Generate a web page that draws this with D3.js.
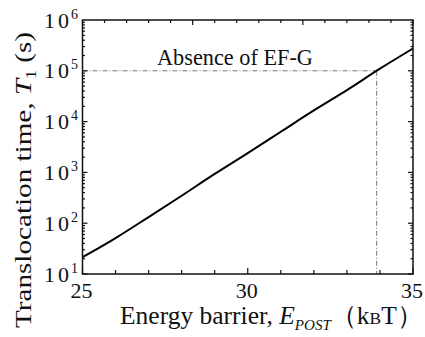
<!DOCTYPE html>
<html>
<head>
<meta charset="utf-8">
<script src="https://cdn.jsdelivr.net/npm/d3@7"></script>
<style>
  body { margin: 0; background: #fff; }
</style>
</head>
<body>
<div id="container"></div>
<script>
// energy barrier E_POST (kBT) and translocation time T1 (s)
const energy = [25, 26, 27, 28, 29, 30, 31, 32, 33, 34, 35];
const time = [21.4, 51, 132, 347, 933, 2400, 6310, 16600, 41700, 110000, 275000];
const xTickValues = [25, 30, 35];
const yExponents = [1, 2, 3, 4, 5, 6];
const markerE = 33.9;
const markerT = 1e5;
const note = "Absence of EF-G";

const w = 425;
const h = 337;
const svg = d3.select("#container")
  .append("svg")
  .attr("width", w)
  .attr("height", h)
  .attr("font-family", "Liberation Serif");

const padL = 82.5, padR = 413, padT = 20, padB = 274;

const xScale = d3.scaleLinear().domain([25, 35]).range([padL, padR]);
const yScale = d3.scaleLog().domain([10, 1e6]).range([padB, padT]);

// scale a text's font so it spans the wanted width
function fitText(sel, target) {
  const size = +sel.attr("font-size");
  const k = target / sel.node().getBBox().width;
  sel.attr("font-size", size * k);
  sel.selectAll("tspan").each(function () {
    const t = d3.select(this);
    if (t.attr("font-size")) t.attr("font-size", +t.attr("font-size") * k);
    if (t.attr("dy")) t.attr("dy", +t.attr("dy") * k);
  });
}

// dash-dot guide lines
const guide = svg.append("g")
  .attr("stroke", "#777")
  .attr("stroke-width", 1)
  .attr("stroke-dasharray", "5,2,1,2")
  .attr("fill", "none");
guide.append("line")
  .attr("x1", xScale(25)).attr("x2", xScale(markerE))
  .attr("y1", yScale(markerT)).attr("y2", yScale(markerT));
guide.append("line")
  .attr("x1", xScale(markerE)).attr("x2", xScale(markerE))
  .attr("y1", yScale(markerT)).attr("y2", padB);

// curve
const line = d3.line()
  .x((d, i) => xScale(energy[i]))
  .y((d) => yScale(d))
  .curve(d3.curveMonotoneX);
svg.append("path")
  .datum(time)
  .attr("d", line)
  .attr("fill", "none")
  .attr("stroke", "#000")
  .attr("stroke-width", 2);

// frame
svg.append("rect")
  .attr("x", padL).attr("y", padT)
  .attr("width", padR - padL).attr("height", padB - padT)
  .attr("fill", "none")
  .attr("stroke", "#111")
  .attr("stroke-width", 1.5);

// inward ticks
const ticks = svg.append("g").attr("stroke", "#111").attr("stroke-width", 1.2);
const xMinor = d3.range(25, 35.01, 1);
ticks.selectAll(".xb")
  .data(xMinor)
  .enter().append("line")
  .attr("x1", (d) => xScale(d)).attr("x2", (d) => xScale(d))
  .attr("y1", padB).attr("y2", (d) => padB - (d % 5 === 0 ? 6 : 4));

const topMarks = d3.range(0, 16);
ticks.selectAll(".xt")
  .data(topMarks)
  .enter().append("line")
  .attr("x1", (d) => xScale(25 + d * 10 / 15)).attr("x2", (d) => xScale(25 + d * 10 / 15))
  .attr("y1", padT).attr("y2", (d) => padT + (d % 5 === 0 ? 5 : 3));

const yMinor = yScale.ticks().filter((d) => d < 1e6);
[padL, padR].forEach(function (edge) {
  const dir = edge === padL ? 1 : -1;
  ticks.selectAll(null)
    .data(yMinor)
    .enter().append("line")
    .attr("y1", (d) => yScale(d)).attr("y2", (d) => yScale(d))
    .attr("x1", edge)
    .attr("x2", (d) => edge + dir * (Math.abs(Math.log10(d) % 1) < 1e-6 ? 5 : 2.5));
});

// tick labels
svg.selectAll(".xl")
  .data(xTickValues)
  .enter().append("text")
  .attr("x", (d) => xScale(d) - 1)
  .attr("y", 298)
  .attr("text-anchor", "middle")
  .attr("font-size", 22)
  .attr("fill", "#111")
  .text((d) => d);

const yl = svg.selectAll(".yl")
  .data(yExponents)
  .enter().append("text")
  .attr("x", 78)
  .attr("y", (d) => yScale(Math.pow(10, d)) + 7.5)
  .attr("text-anchor", "end")
  .attr("font-size", 22)
  .attr("fill", "#111");
yl.append("tspan").attr("letter-spacing", 3).text("10");
yl.append("tspan")
  .attr("font-size", 14)
  .attr("dx", -1)
  .attr("dy", -9)
  .text((d) => d);

// note
const nt = svg.append("text")
  .attr("x", 235)
  .attr("y", 65)
  .attr("text-anchor", "middle")
  .attr("font-size", 21)
  .attr("fill", "#111")
  .text(note);
fitText(nt, 156);

// x title
const xt = svg.append("text")
  .attr("x", 120)
  .attr("y", 324)
  .attr("font-size", 22)
  .attr("fill", "#111");
xt.append("tspan").text("Energy barrier, ");
xt.append("tspan").attr("font-style", "italic").text("E");
xt.append("tspan").attr("font-style", "italic").attr("font-size", 13).attr("dy", 5).text("POST");
xt.append("tspan").attr("dy", -5).text("（k");
xt.append("tspan").attr("font-size", 15).text("B");
xt.append("tspan").text("T）");
fitText(xt, 302);

// y title: font sized by glyph height, stretched along its length
const yt = svg.append("text")
  .attr("text-anchor", "middle")
  .attr("font-size", 23)
  .attr("fill", "#111");
yt.append("tspan").text("Translocation time, ");
yt.append("tspan").attr("font-style", "italic").text("T");
yt.append("tspan").attr("font-size", 14).attr("dy", 5).text("1");
yt.append("tspan").attr("dy", -5).text(" (s)");
const sx = 296 / yt.node().getBBox().width;
yt.attr("transform", "translate(31,180) rotate(-90) scale(" + sx + ",1)");
</script>
</body>
</html>
